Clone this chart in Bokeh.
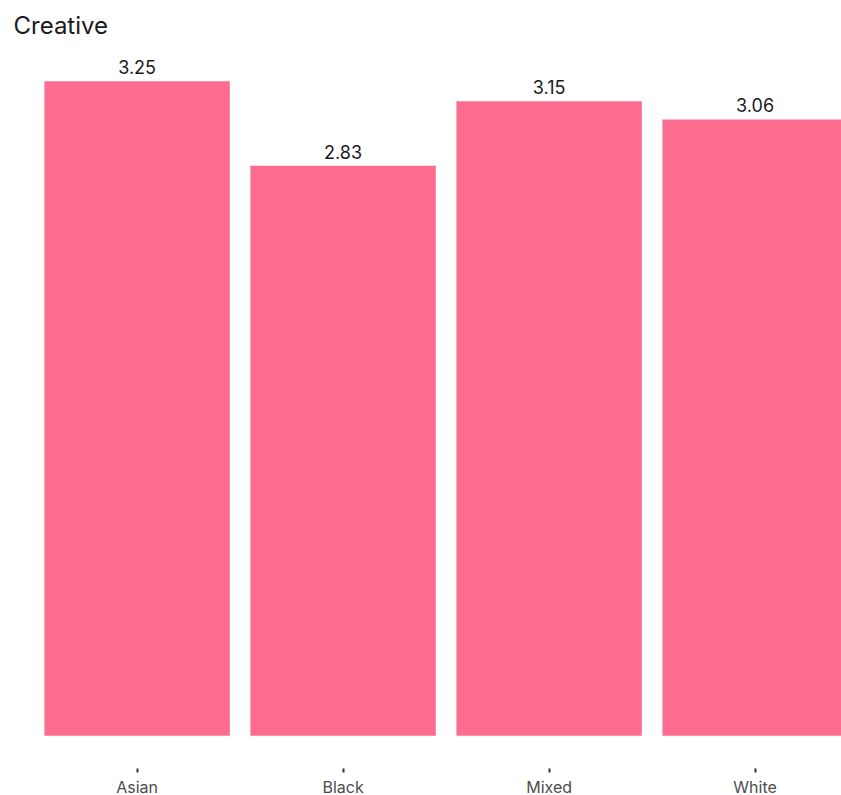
from bokeh.plotting import figure
from bokeh.models import ColumnDataSource, Range1d, FixedTicker, LabelSet
from bokeh.core.properties import value
from bokeh.embed import file_html
from bokeh.resources import INLINE

categories = ["Asian", "Black", "Mixed", "White"]
values = [3.25, 2.83, 3.15, 3.06]
value_labels = ["3.25", "2.83", "3.15", "3.06"]

xs = list(range(len(categories)))
src = ColumnDataSource(dict(x=xs, top=values, label=value_labels))

FONT = "Inter"
p = figure(
    width=841, height=795,
    frame_width=828, frame_height=720,
    min_border_left=13, min_border_right=0, min_border_top=48, min_border_bottom=27,
    x_range=Range1d(-0.6, -0.6 + 828 / 206),
    y_range=Range1d(-0.1625, 3.4125),
    output_backend="svg", toolbar_location=None,
    title="Creative",
)
p.title.text_font = FONT
p.title.text_font_size = "24px"
p.title.text_font_style = "normal"
p.title.text_color = "#1a1a1a"
p.title.offset = 0
p.title.standoff = 17

p.vbar(x="x", top="top", bottom=0, width=0.9, source=src, color="#FC6C8F", line_color=None)

labels = LabelSet(x="x", y="top", text="label", source=src, text_align="center",
                  text_baseline="bottom", y_offset=7, text_font=value(FONT),
                  text_font_size=value("18px"), text_color=value("#1a1a1a"))
p.add_layout(labels)

p.xaxis.ticker = FixedTicker(ticks=xs)
p.xaxis.major_label_overrides = {i: c for i, c in enumerate(categories)}
p.xaxis.axis_line_color = None
p.xaxis.major_tick_line_color = "#333333"
p.xaxis.major_tick_line_width = 2
p.xaxis.major_tick_out = 4
p.xaxis.major_tick_in = 0
p.xaxis.minor_tick_line_color = None
p.xaxis.major_label_text_font = FONT
p.xaxis.major_label_text_font_size = "16px"
p.xaxis.major_label_text_color = "#4d4d4d"
p.xaxis.major_label_standoff = 4
p.yaxis.visible = False
p.xgrid.visible = False
p.ygrid.visible = False
p.outline_line_color = None
p.background_fill_color = "white"
p.border_fill_color = "white"

open("out.html", "w").write(file_html(p, INLINE))
